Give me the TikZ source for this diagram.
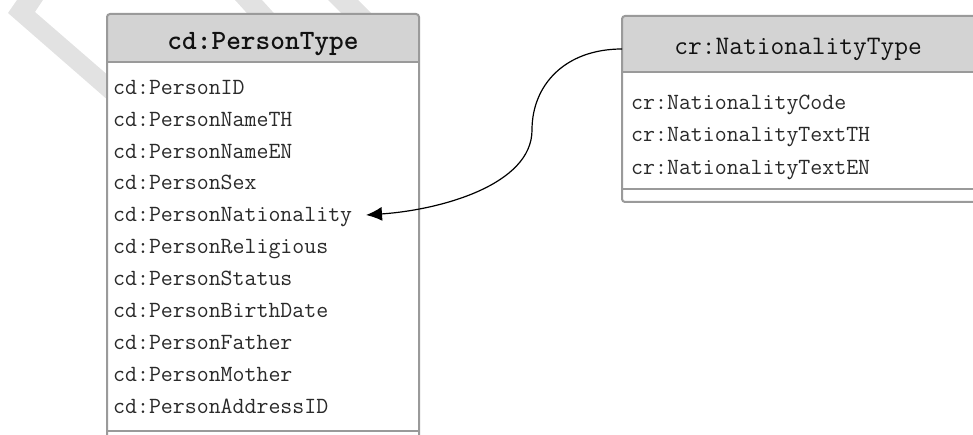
\documentclass[tikz,border=0pt]{standalone}
\usepackage{fontspec}
\usetikzlibrary{arrows.meta,calc}
\definecolor{boxborder}{HTML}{9A9A9A}
\definecolor{headfill}{HTML}{D3D3D3}
\definecolor{wmark}{HTML}{E2E2E2}
\definecolor{rowtext}{HTML}{2A2A2A}
\definecolor{headtext}{HTML}{111111}
\tikzset{
  umlbox/.style={draw=boxborder, line width=2pt, fill=white, rounded corners=3pt,
    inner sep=0pt, outer sep=0pt, anchor=north west},
  rowtxt/.style={font=\ttfamily\fontsize{23.2}{27}\selectfont, text=rowtext,
    inner sep=0pt, anchor=base west},
  headtxt/.style={text=headtext, inner sep=0pt, anchor=base},
  conn/.style={draw=black, line width=1.2pt, -{Latex[length=16pt,width=14pt]}}
}
\begin{document}
\begin{tikzpicture}[x=1pt,y=-1pt]
\useasboundingbox (0,0) rectangle (973,435);
\clip (0,0) rectangle (973,435);
% watermark fragments
\fill[wmark] (17,0) -- (8,13) -- (125,115) -- (125,90) -- (35,12) -- (43,0) -- cycle;
\fill[wmark] (235,0) -- (262,0) -- (282,22) -- (255,22) -- cycle;
\fill[wmark] (328,0) -- (358,0) -- (380,22) -- (350,22) -- cycle;
% PersonType box
\node[umlbox, minimum width=312pt, minimum height=440pt,
  path picture={
    \fill[headfill] (path picture bounding box.north west) rectangle
      ([yshift=-48pt]path picture bounding box.north east);
    \draw[boxborder, line width=1.5pt] ([yshift=-48pt]path picture bounding box.north west) --
      ([yshift=-48pt]path picture bounding box.north east);
    \draw[boxborder, line width=1.5pt] ([yshift=-417pt]path picture bounding box.north west) --
      ([yshift=-417pt]path picture bounding box.north east);
  }] (pbox) at (107,14) {};
\node[headtxt, font=\ttfamily\bfseries\fontsize{28}{32}\selectfont] (phead) at (263,50) {cd:PersonType};
\node[rowtxt] (p1) at (113,95) {cd:PersonID};
\node[rowtxt] (p2) at (113,127) {cd:PersonNameTH};
\node[rowtxt] (p3) at (113,158.5) {cd:PersonNameEN};
\node[rowtxt] (p4) at (113,190) {cd:PersonSex};
\node[rowtxt] (pnat) at (113,222) {cd:PersonNationality};
\node[rowtxt] (p6) at (113,253.5) {cd:PersonReligious};
\node[rowtxt] (p7) at (113,285.5) {cd:PersonStatus};
\node[rowtxt] (p8) at (113,317.5) {cd:PersonBirthDate};
\node[rowtxt] (p9) at (113,349) {cd:PersonFather};
\node[rowtxt] (p10) at (113,381) {cd:PersonMother};
\node[rowtxt] (p11) at (113,413) {cd:PersonAddressID};
% NationalityType box
\node[umlbox, minimum width=356pt, minimum height=186pt,
  path picture={
    \fill[headfill] (path picture bounding box.north west) rectangle
      ([yshift=-56pt]path picture bounding box.north east);
    \draw[boxborder, line width=1.5pt] ([yshift=-56pt]path picture bounding box.north west) --
      ([yshift=-56pt]path picture bounding box.north east);
    \draw[boxborder, line width=1.5pt] ([yshift=-173pt]path picture bounding box.north west) --
      ([yshift=-173pt]path picture bounding box.north east);
  }] (nbox) at (622,16) {};
\node[headtxt, font=\ttfamily\fontsize{26.7}{30}\selectfont] (nhead) at (798,55) {cr:NationalityType};
\node[rowtxt] (n1) at (631,110) {cr:NationalityCode};
\node[rowtxt] (n2) at (631,142) {cr:NationalityTextTH};
\node[rowtxt] (n3) at (631,175) {cr:NationalityTextEN};
% connector
\coordinate (nstart) at ($(nbox.north west)+(0,33)$);
\coordinate (tip) at (366,215);
\draw[conn] (nstart) .. controls (565,49) and (532,85) .. (532,130)
  .. controls (532,185) and (440,210) .. (tip);
\end{tikzpicture}
\end{document}
